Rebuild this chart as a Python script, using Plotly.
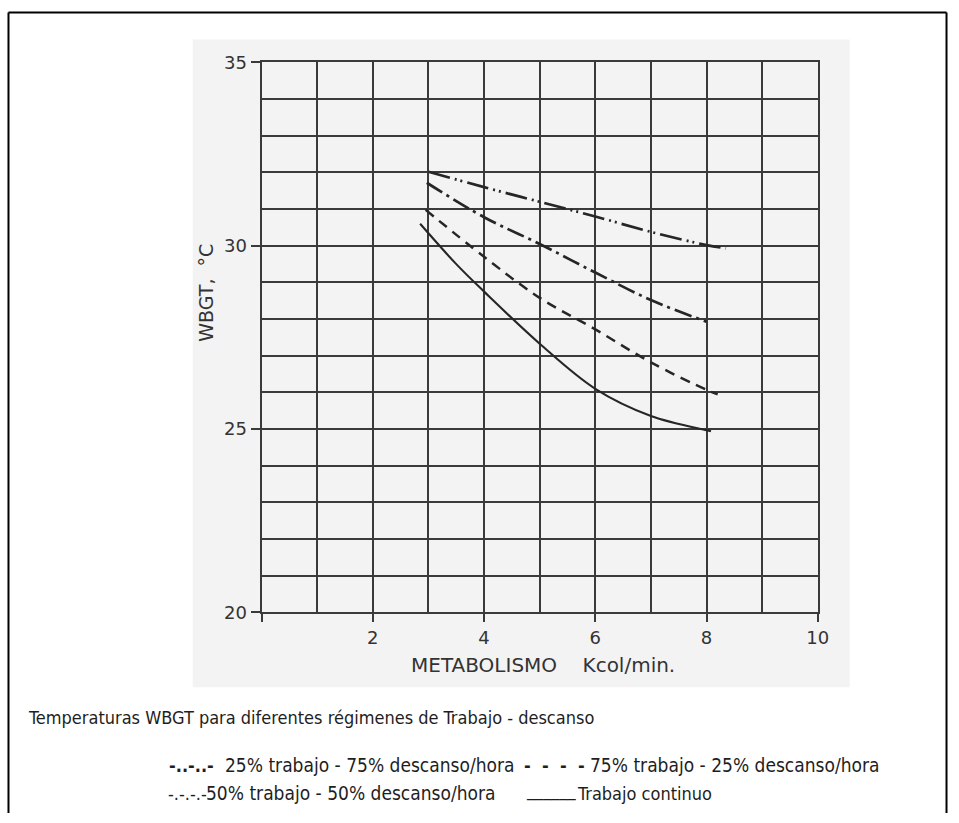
import plotly.graph_objects as go

W, H = 959, 823

# ---- data ----
x_25_75 = [3.0, 4.0, 5.0, 6.0, 7.0, 8.0, 8.35]
y_25_75 = [32.02, 31.6, 31.2, 30.8, 30.38, 30.02, 29.93]

x_50_50 = [2.97, 4.0, 5.0, 6.0, 7.0, 8.0]
y_50_50 = [31.72, 30.78, 30.05, 29.27, 28.52, 27.93]

x_75_25 = [2.95, 4.0, 5.0, 6.0, 7.0, 8.0, 8.2]
y_75_25 = [30.98, 29.7, 28.58, 27.72, 26.82, 26.07, 25.95]

x_cont = [2.85, 3.5, 4.0, 5.0, 6.0, 7.0, 8.0, 8.08]
y_cont = [30.6, 29.5, 28.75, 27.33, 26.1, 25.36, 24.97, 24.94]

x_ticks = [0, 2, 4, 6, 8, 10]
x_ticktext = ["", "2", "4", "6", "8", "10"]
y_ticks = [20, 25, 30, 35]
y_ticktext = ["20", "25", "30", "35"]

caption = "Temperaturas WBGT para diferentes régimenes de Trabajo - descanso"
legend_samples = ["-..-..-", "-  -  -  -", "-.-.-.-", "______"]
legend_labels = ["25% trabajo - 75% descanso/hora", "75% trabajo - 25% descanso/hora",
                 "50% trabajo - 50% descanso/hora", "Trabajo continuo"]
x_title = "METABOLISMO    Kcol/min."
y_title = "WBGT,  °C"

# the photographed page maps layout pixels to picture pixels as
# pic_x = 0.99 * x - 1, pic_y = 0.9764 * y + 9.4 ; place items in picture pixels
SX, OX = 0.99, -1.0
SY, OY = 0.9764, 9.4


def px(xpic):
    return ((xpic - OX) / SX) / W


def py(ypic):
    return 1 - ((ypic - OY) / SY) / H


ink = "#262626"
grid = "#3a3a3a"

fig = go.Figure()
fig.add_trace(go.Scatter(x=x_25_75, y=y_25_75, mode="lines",
                         line=dict(color=ink, width=2.7, dash="22px,5px,2px,4px,2px,5px", shape="spline"),
                         showlegend=False))
fig.add_trace(go.Scatter(x=x_50_50, y=y_50_50, mode="lines",
                         line=dict(color=ink, width=2.7, dash="18px,5px,3px,5px", shape="spline"),
                         showlegend=False))
fig.add_trace(go.Scatter(x=x_75_25, y=y_75_25, mode="lines",
                         line=dict(color=ink, width=2.5, dash="10px,7px", shape="spline"),
                         showlegend=False))
fig.add_trace(go.Scatter(x=x_cont, y=y_cont, mode="lines",
                         line=dict(color=ink, width=2.1, shape="spline"),
                         showlegend=False))

tick_font = dict(family="DejaVu Sans", size=18, color="#333333")
text_font = dict(family="DejaVu Sans Condensed, DejaVu Sans", size=18, color="#1e1e1e")
pct_font = dict(family="DejaVu Sans Condensed, DejaVu Sans", size=19, color="#1e1e1e")
bold_sample = dict(family="DejaVu Sans Condensed, DejaVu Sans", size=18, color="#1e1e1e", weight="bold")

annotations = [
    dict(text=y_title, xref="paper", yref="paper", x=px(205), y=py(292),
         showarrow=False, textangle=-90, xanchor="center", yanchor="middle",
         font=dict(family="DejaVu Sans", size=19, color="#333333")),
    dict(text=x_title, xref="paper", yref="paper", x=px(543), y=py(665),
         showarrow=False, xanchor="center", yanchor="middle",
         font=dict(family="DejaVu Sans", size=20, color="#333333")),
    dict(text=caption, xref="paper", yref="paper", x=px(25), y=py(717),
         showarrow=False, xanchor="left", yanchor="middle", font=text_font),
]
legend_items = [
    (legend_samples[0], 166, 765, bold_sample), (legend_labels[0], 222, 765, pct_font),
    (legend_samples[1], 522, 765, bold_sample), (legend_labels[1], 588, 765, pct_font),
    (legend_samples[2], 165, 793, text_font), (legend_labels[2], 203, 793, pct_font),
    (legend_samples[3], 524, 790, text_font), (legend_labels[3], 575, 793, text_font),
]
for t, lx, ly, f in legend_items:
    annotations.append(dict(text=t, xref="paper", yref="paper", x=px(lx), y=py(ly),
                            showarrow=False, xanchor="left", yanchor="middle", font=f))

fig.update_layout(
    width=W, height=H,
    margin=dict(l=0, r=0, t=0, b=0),
    paper_bgcolor="white",
    plot_bgcolor="rgba(0,0,0,0)",
    xaxis=dict(
        domain=[px(261), px(818)], range=[0, 10],
        tickmode="array", tickvals=x_ticks, ticktext=x_ticktext,
        ticks="outside", ticklen=8, tickwidth=2, tickcolor=grid,
        showgrid=True, gridcolor=grid, gridwidth=2,
        minor=dict(dtick=1, showgrid=True, gridcolor=grid, gridwidth=2),
        showline=True, linecolor=grid, linewidth=2, mirror=True,
        zeroline=False, tickfont=tick_font, fixedrange=True,
    ),
    yaxis=dict(
        domain=[py(612), py(61)], range=[20, 35],
        tickmode="array", tickvals=y_ticks, ticktext=y_ticktext,
        ticks="outside", ticklen=9, tickwidth=2, tickcolor=grid,
        showgrid=True, gridcolor=grid, gridwidth=2,
        minor=dict(dtick=1, showgrid=True, gridcolor=grid, gridwidth=2),
        showline=True, linecolor=grid, linewidth=2, mirror=True,
        zeroline=False, tickfont=tick_font, fixedrange=True,
    ),
    shapes=[
        dict(type="rect", xref="paper", yref="paper", layer="below",
             x0=px(192), x1=px(850), y0=py(687), y1=py(38),
             fillcolor="#f3f3f3", line=dict(width=0)),
        dict(type="line", xref="paper", yref="paper",
             x0=px(7.5), x1=px(7.5), y0=0, y1=1 - 1.5 / H,
             line=dict(color="black", width=2)),
        dict(type="line", xref="paper", yref="paper",
             x0=px(7.5), x1=1 - 1.5 / W, y0=1 - 1.5 / H, y1=1 - 1.5 / H,
             line=dict(color="black", width=2)),
        dict(type="line", xref="paper", yref="paper",
             x0=1 - 1.5 / W, x1=1 - 1.5 / W, y0=1 - 1.5 / H, y1=0,
             line=dict(color="black", width=2)),
    ],
    annotations=annotations,
)

post = ("var d=document.getElementById('{plot_id}');"
        "d.style.position='fixed';d.style.left='0px';d.style.top='0px';"
        "document.body.style.margin='0px';document.body.style.overflow='hidden';"
        "document.documentElement.style.overflow='hidden';")

fig.write_html("out.html", config={"displayModeBar": False}, post_script=post)
